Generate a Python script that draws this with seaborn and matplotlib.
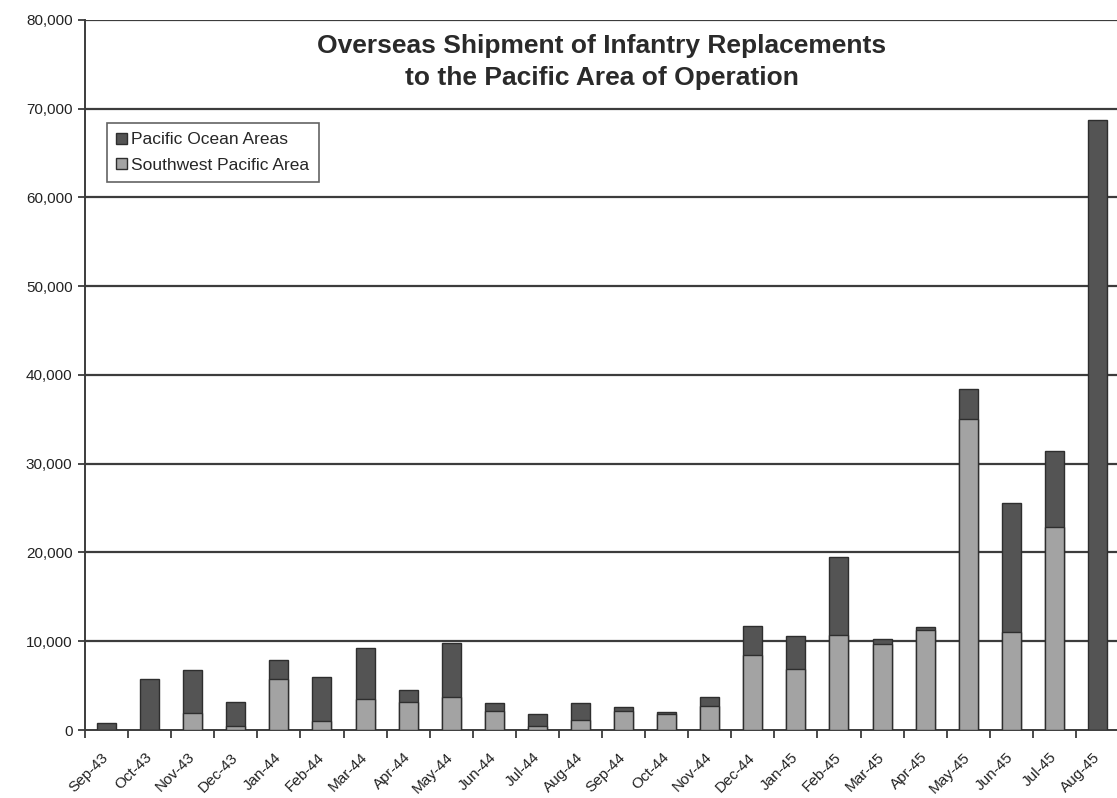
import matplotlib
matplotlib.use("Agg")
import matplotlib.pyplot as plt
from matplotlib.patches import Patch
from matplotlib.ticker import FuncFormatter, MultipleLocator
from matplotlib.transforms import ScaledTranslation
import numpy as np
import pandas as pd
import seaborn as sns

months = ["Sep-43", "Oct-43", "Nov-43", "Dec-43", "Jan-44", "Feb-44", "Mar-44",
          "Apr-44", "May-44", "Jun-44", "Jul-44", "Aug-44", "Sep-44", "Oct-44",
          "Nov-44", "Dec-44", "Jan-45", "Feb-45", "Mar-45", "Apr-45", "May-45",
          "Jun-45", "Jul-45", "Aug-45"]
southwest_pacific = [0, 0, 1900, 400, 5700, 1000, 3500, 3200, 3700, 2100, 400, 1100,
                     2100, 1800, 2700, 8500, 6900, 10700, 9700, 11300, 35000, 11000,
                     22900, 0]
pacific_ocean = [800, 5800, 4850, 2750, 2200, 5000, 5700, 1300, 6100, 900, 1400, 1900,
                 500, 200, 1000, 3200, 3700, 8800, 600, 300, 3400, 14600, 8500, 68700]

df = pd.DataFrame({"month": months, "swpa": southwest_pacific, "poa": pacific_ocean})
df["total"] = df["swpa"] + df["poa"]

dark = "#545454"
light = "#a3a3a3"
edge = "#2e2e2e"

sns.set_theme(style="white")
plt.rcParams["font.family"] = ["Liberation Sans", "DejaVu Sans"]

fig = plt.figure(figsize=(11.17, 7.98), dpi=100)
ax = fig.add_axes([0.0761, 0.0852, 0.9257, 0.8898])

# Stacked bars: the full height in dark, the Southwest Pacific share over it in light
sns.barplot(data=df, x="month", y="total", color=dark, saturation=1, width=0.44,
            edgecolor=edge, linewidth=1.0, ax=ax, zorder=3)
sns.barplot(data=df, x="month", y="swpa", color=light, saturation=1, width=0.44,
            edgecolor=edge, linewidth=1.0, ax=ax, zorder=4)

ax.set_xlim(-0.5, len(months) - 0.5)
ax.set_ylim(0, 80000)
ax.yaxis.set_major_locator(MultipleLocator(10000))
ax.yaxis.set_major_formatter(FuncFormatter(lambda v, p: f"{int(v):,}"))
ax.set_xlabel("")
ax.set_ylabel("")

for y in range(10000, 80001, 10000):
    ax.axhline(y, color="#3c3c3c", lw=1.6, zorder=1)

for s in ["top", "right"]:
    ax.spines[s].set_visible(False)
for s in ["left", "bottom"]:
    ax.spines[s].set_color("#3c3c3c")
    ax.spines[s].set_linewidth(1.4)

# x ticks sit between categories; labels stay under each bar
ax.set_xticks(np.arange(len(months)))
ax.set_xticklabels(months, rotation=45, ha="right", rotation_mode="anchor",
                   fontsize=11, color="#222222")
ax.set_xticks(np.arange(len(months)) - 0.5, minor=True)
ax.tick_params(axis="x", which="major", length=0, pad=0)
ax.tick_params(axis="x", which="minor", length=6, width=1.3, color="#3c3c3c",
               direction="out", bottom=True)
ax.tick_params(axis="y", which="major", length=5, width=1.3, color="#3c3c3c",
               direction="out", left=True, labelsize=11, labelcolor="#222222", pad=4)
shift = ScaledTranslation(-0.05, -0.2, fig.dpi_scale_trans)
for lab in ax.get_xticklabels():
    lab.set_transform(lab.get_transform() + shift)

ax.text(0.5, 0.941, "Overseas Shipment of Infantry Replacements\nto the Pacific Area of Operation",
        transform=ax.transAxes, ha="center", va="center", fontsize=19,
        fontweight="bold", color="#2a2a2a", linespacing=1.4)

handles = [Patch(facecolor=dark, edgecolor=edge, label="Pacific Ocean Areas"),
           Patch(facecolor=light, edgecolor=edge, label="Southwest Pacific Area")]
leg = ax.legend(handles=handles, loc="upper left", bbox_to_anchor=(0.021, 0.855),
                frameon=True, fancybox=False, fontsize=12.5, handlelength=0.6,
                handleheight=0.6, handletextpad=0.25, labelspacing=0.6,
                borderpad=0.55, borderaxespad=0)
leg.get_frame().set_edgecolor("#3c3c3c")
leg.get_frame().set_linewidth(1.2)
leg.set_zorder(6)

fig.savefig("out.png", dpi=100)
